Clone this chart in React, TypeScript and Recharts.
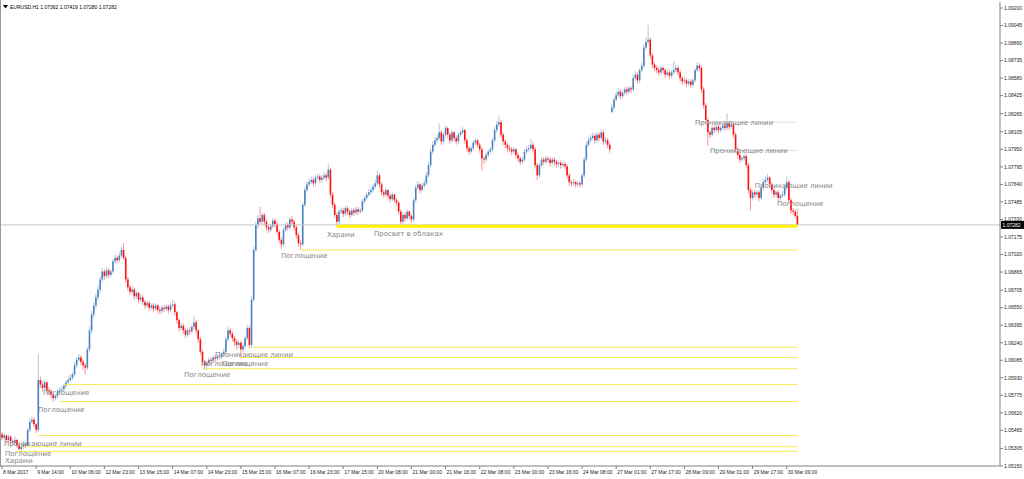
import React from 'react';
import { ComposedChart, Bar, Scatter, XAxis, YAxis, ReferenceLine } from 'recharts';

// EURUSD H1, 8-30 Mar 2017 — prices
const opens = [
  1.0543,1.0540,1.0542,1.0538,1.0541,1.0537,1.0536,1.0538,1.0533,1.0530,
  1.0532,1.0534,1.0533,1.0547,1.0554,1.0556,1.0552,1.0547,1.0591,1.0587,
  1.0584,1.0589,1.0582,1.0581,1.0578,1.0575,1.0577,1.0581,1.0582,1.0583,
  1.0586,1.0589,1.0591,1.0593,1.0596,1.0604,1.0609,1.0611,1.0607,1.0604,
  1.0602,1.0618,1.0635,1.0649,1.0657,1.0664,1.0671,1.0680,1.0687,1.0683,
  1.0688,1.0684,1.0687,1.0696,1.0699,1.0697,1.0701,1.0706,1.0699,1.0680,
  1.0673,1.0669,1.0671,1.0665,1.0668,1.0662,1.0664,1.0660,1.0657,1.0659,
  1.0655,1.0657,1.0654,1.0657,1.0653,1.0652,1.0655,1.0654,1.0656,1.0653,
  1.0657,1.0658,1.0651,1.0644,1.0637,1.0639,1.0635,1.0631,1.0635,1.0634,
  1.0638,1.0642,1.0635,1.0627,1.0616,1.0607,1.0604,1.0606,1.0609,1.0608,
  1.0611,1.0610,1.0612,1.0612,1.0614,1.0616,1.0627,1.0635,1.0632,1.0628,
  1.0625,1.0622,1.0624,1.0618,1.0621,1.0628,1.0637,1.0622,1.0662,1.0706,
  1.0728,1.0734,1.0731,1.0737,1.0731,1.0726,1.0724,1.0727,1.0732,1.0729,
  1.0722,1.0715,1.0711,1.0724,1.0728,1.0726,1.0733,1.0731,1.0726,1.0719,
  1.0712,1.0711,1.0746,1.0759,1.0764,1.0766,1.0768,1.0765,1.0770,1.0771,
  1.0768,1.0770,1.0772,1.0770,1.0777,1.0755,1.0746,1.0737,1.0731,1.0740,
  1.0741,1.0738,1.0743,1.0740,1.0737,1.0741,1.0739,1.0742,1.0740,1.0741,
  1.0749,1.0752,1.0755,1.0757,1.0759,1.0762,1.0765,1.0772,1.0764,1.0757,
  1.0755,1.0759,1.0754,1.0751,1.0755,1.0750,1.0748,1.0740,1.0731,1.0737,
  1.0734,1.0740,1.0736,1.0733,1.0750,1.0761,1.0764,1.0759,1.0763,1.0765,
  1.0772,1.0781,1.0793,1.0799,1.0803,1.0805,1.0810,1.0802,1.0808,1.0814,
  1.0808,1.0803,1.0810,1.0805,1.0802,1.0808,1.0810,1.0812,1.0803,1.0796,
  1.0793,1.0796,1.0801,1.0803,1.0799,1.0795,1.0787,1.0786,1.0790,1.0793,
  1.0795,1.0803,1.0812,1.0817,1.0819,1.0808,1.0802,1.0799,1.0796,1.0795,
  1.0793,1.0795,1.0790,1.0787,1.0784,1.0786,1.0793,1.0795,1.0796,1.0799,
  1.0795,1.0781,1.0772,1.0781,1.0786,1.0784,1.0787,1.0786,1.0783,1.0786,
  1.0784,1.0782,1.0783,1.0781,1.0782,1.0780,1.0772,1.0766,1.0765,1.0766,
  1.0764,1.0765,1.0764,1.0772,1.0786,1.0799,1.0803,1.0805,1.0807,1.0803,
  1.0808,1.0805,1.0810,1.0802,1.0803,1.0799,1.0828,1.0832,1.0839,1.0843,
  1.0846,1.0842,1.0845,1.0848,1.0846,1.0849,1.0848,1.0858,1.0861,1.0856,
  1.0865,1.0869,1.0885,1.0890,1.0892,1.0878,1.0870,1.0867,1.0865,1.0863,
  1.0867,1.0865,1.0861,1.0863,1.0860,1.0863,1.0865,1.0867,1.0863,1.0858,
  1.0855,1.0856,1.0853,1.0855,1.0852,1.0856,1.0865,1.0869,1.0867,1.0848,
  1.0834,1.0821,1.0810,1.0808,1.0814,1.0812,1.0815,1.0812,1.0814,1.0816,
  1.0814,1.0818,1.0815,1.0817,1.0808,1.0795,1.0790,1.0786,1.0787,1.0789,
  1.0781,1.0759,1.0752,1.0757,1.0755,1.0757,1.0752,1.0761,1.0766,1.0768,
  1.0770,1.0764,1.0759,1.0755,1.0757,1.0752,1.0754,1.0755,1.0761,1.0766,
  1.0750,1.0741,1.0740,1.07362,
];

const highs = [
  1.0545,1.0544,1.0543,1.0543,1.0542,1.0539,1.0541,1.0539,1.0535,1.0534,
  1.0537,1.0536,1.0549,1.0557,1.0559,1.0558,1.0553,1.0614,1.0594,1.0590,
  1.0591,1.0590,1.0585,1.0583,1.0580,1.0579,1.0583,1.0585,1.0586,1.0588,
  1.0591,1.0594,1.0596,1.0598,1.0607,1.0611,1.0614,1.0613,1.0609,1.0606,
  1.0620,1.0638,1.0652,1.0660,1.0667,1.0674,1.0683,1.0690,1.0689,1.0691,
  1.0690,1.0689,1.0698,1.0702,1.0701,1.0704,1.0709,1.0712,1.0701,1.0682,
  1.0675,1.0674,1.0673,1.0670,1.0669,1.0667,1.0666,1.0662,1.0661,1.0661,
  1.0659,1.0659,1.0659,1.0658,1.0656,1.0657,1.0657,1.0658,1.0658,1.0659,
  1.0662,1.0660,1.0652,1.0646,1.0642,1.0641,1.0637,1.0637,1.0638,1.0640,
  1.0648,1.0644,1.0636,1.0629,1.0618,1.0609,1.0608,1.0611,1.0611,1.0613,
  1.0613,1.0614,1.0615,1.0616,1.0619,1.0629,1.0638,1.0637,1.0634,1.0630,
  1.0627,1.0626,1.0626,1.0623,1.0630,1.0640,1.0639,1.0665,1.0709,1.0731,
  1.0737,1.0744,1.0739,1.0739,1.0733,1.0729,1.0729,1.0734,1.0734,1.0731,
  1.0724,1.0717,1.0726,1.0730,1.0731,1.0735,1.0736,1.0733,1.0728,1.0721,
  1.0715,1.0748,1.0762,1.0767,1.0769,1.0771,1.0770,1.0772,1.0774,1.0773,
  1.0772,1.0775,1.0774,1.0782,1.0779,1.0757,1.0748,1.0739,1.0742,1.0744,
  1.0743,1.0745,1.0745,1.0742,1.0743,1.0743,1.0744,1.0744,1.0743,1.0751,
  1.0754,1.0757,1.0760,1.0762,1.0764,1.0768,1.0777,1.0774,1.0766,1.0759,
  1.0761,1.0760,1.0756,1.0757,1.0756,1.0752,1.0749,1.0742,1.0739,1.0739,
  1.0742,1.0741,1.0738,1.0752,1.0763,1.0767,1.0765,1.0765,1.0768,1.0775,
  1.0784,1.0796,1.0802,1.0806,1.0808,1.0818,1.0812,1.0810,1.0816,1.0815,
  1.0810,1.0812,1.0811,1.0807,1.0810,1.0812,1.0815,1.0813,1.0805,1.0798,
  1.0798,1.0803,1.0805,1.0804,1.0801,1.0797,1.0789,1.0792,1.0795,1.0797,
  1.0805,1.0815,1.0820,1.0825,1.0821,1.0810,1.0804,1.0801,1.0798,1.0797,
  1.0797,1.0796,1.0792,1.0789,1.0788,1.0795,1.0798,1.0799,1.0804,1.0801,
  1.0797,1.0783,1.0783,1.0788,1.0788,1.0789,1.0789,1.0788,1.0788,1.0788,
  1.0786,1.0785,1.0785,1.0784,1.0784,1.0782,1.0774,1.0768,1.0769,1.0768,
  1.0767,1.0767,1.0774,1.0788,1.0802,1.0806,1.0808,1.0810,1.0809,1.0810,
  1.0810,1.0813,1.0812,1.0806,1.0805,1.0801,1.0835,1.0841,1.0846,1.0849,
  1.0848,1.0847,1.0850,1.0850,1.0851,1.0851,1.0861,1.0864,1.0863,1.0867,
  1.0872,1.0888,1.0894,1.0905,1.0894,1.0880,1.0872,1.0869,1.0868,1.0869,
  1.0869,1.0867,1.0866,1.0865,1.0865,1.0873,1.0870,1.0869,1.0865,1.0860,
  1.0859,1.0858,1.0857,1.0857,1.0858,1.0867,1.0872,1.0871,1.0869,1.0850,
  1.0836,1.0823,1.0812,1.0816,1.0816,1.0817,1.0817,1.0816,1.0819,1.0818,
  1.0827,1.0820,1.0819,1.0819,1.0810,1.0797,1.0792,1.0789,1.0791,1.0791,
  1.0783,1.0761,1.0759,1.0759,1.0759,1.0759,1.0763,1.0769,1.0771,1.0773,
  1.0771,1.0766,1.0761,1.0759,1.0759,1.0756,1.0758,1.0763,1.0771,1.0768,
  1.0752,1.0743,1.0742,1.07419,
];

const lows = [
  1.0538,1.0537,1.0535,1.0536,1.0534,1.0533,1.0534,1.0531,1.0527,1.0528,
  1.0530,1.0531,1.0532,1.0545,1.0552,1.0549,1.0544,1.0545,1.0584,1.0581,
  1.0582,1.0579,1.0578,1.0575,1.0572,1.0573,1.0575,1.0579,1.0580,1.0581,
  1.0584,1.0587,1.0589,1.0591,1.0594,1.0602,1.0607,1.0604,1.0600,1.0596,
  1.0600,1.0616,1.0632,1.0646,1.0654,1.0661,1.0668,1.0677,1.0680,1.0681,
  1.0681,1.0682,1.0685,1.0694,1.0694,1.0695,1.0699,1.0697,1.0677,1.0670,
  1.0666,1.0667,1.0662,1.0663,1.0659,1.0660,1.0657,1.0654,1.0655,1.0652,
  1.0653,1.0651,1.0652,1.0650,1.0649,1.0650,1.0651,1.0652,1.0650,1.0651,
  1.0655,1.0648,1.0641,1.0634,1.0635,1.0632,1.0628,1.0629,1.0631,1.0632,
  1.0636,1.0632,1.0624,1.0613,1.0604,1.0600,1.0600,1.0604,1.0605,1.0606,
  1.0607,1.0608,1.0609,1.0610,1.0612,1.0614,1.0625,1.0629,1.0625,1.0621,
  1.0618,1.0619,1.0610,1.0615,1.0619,1.0626,1.0619,1.0620,1.0660,1.0704,
  1.0725,1.0729,1.0729,1.0728,1.0723,1.0721,1.0722,1.0725,1.0726,1.0719,
  1.0712,1.0707,1.0709,1.0722,1.0723,1.0724,1.0728,1.0723,1.0716,1.0709,
  1.0706,1.0709,1.0744,1.0757,1.0762,1.0764,1.0762,1.0763,1.0768,1.0765,
  1.0766,1.0768,1.0767,1.0768,1.0752,1.0743,1.0734,1.0727,1.0729,1.0738,
  1.0735,1.0736,1.0737,1.0734,1.0735,1.0736,1.0737,1.0737,1.0738,1.0739,
  1.0747,1.0750,1.0753,1.0755,1.0757,1.0760,1.0763,1.0761,1.0754,1.0752,
  1.0753,1.0751,1.0748,1.0749,1.0747,1.0745,1.0737,1.0727,1.0729,1.0731,
  1.0732,1.0733,1.0730,1.0731,1.0748,1.0759,1.0756,1.0757,1.0761,1.0763,
  1.0770,1.0779,1.0791,1.0797,1.0801,1.0803,1.0799,1.0800,1.0806,1.0805,
  1.0800,1.0801,1.0802,1.0799,1.0800,1.0806,1.0808,1.0800,1.0793,1.0790,
  1.0791,1.0794,1.0799,1.0796,1.0792,1.0776,1.0782,1.0784,1.0788,1.0791,
  1.0793,1.0801,1.0810,1.0815,1.0805,1.0799,1.0796,1.0793,1.0792,1.0790,
  1.0791,1.0787,1.0784,1.0781,1.0782,1.0784,1.0791,1.0793,1.0794,1.0792,
  1.0778,1.0768,1.0770,1.0779,1.0781,1.0782,1.0783,1.0780,1.0781,1.0781,
  1.0779,1.0780,1.0778,1.0779,1.0777,1.0769,1.0763,1.0762,1.0763,1.0761,
  1.0762,1.0761,1.0762,1.0770,1.0784,1.0797,1.0801,1.0803,1.0800,1.0801,
  1.0802,1.0803,1.0799,1.0800,1.0796,1.0792,1.0827,1.0830,1.0837,1.0841,
  1.0839,1.0840,1.0843,1.0843,1.0844,1.0845,1.0846,1.0856,1.0853,1.0854,
  1.0863,1.0867,1.0883,1.0887,1.0875,1.0867,1.0864,1.0862,1.0860,1.0861,
  1.0862,1.0858,1.0859,1.0857,1.0858,1.0861,1.0863,1.0860,1.0855,1.0852,
  1.0853,1.0850,1.0851,1.0849,1.0850,1.0854,1.0863,1.0864,1.0845,1.0831,
  1.0818,1.0798,1.0805,1.0806,1.0809,1.0810,1.0809,1.0810,1.0812,1.0811,
  1.0812,1.0812,1.0813,1.0805,1.0792,1.0787,1.0783,1.0784,1.0785,1.0778,
  1.0756,1.0741,1.0750,1.0752,1.0753,1.0749,1.0750,1.0759,1.0764,1.0766,
  1.0761,1.0756,1.0752,1.0753,1.0749,1.0750,1.0752,1.0753,1.0759,1.0747,
  1.0738,1.0737,1.0734,1.07280,
];

const closes = [
  1.0540,1.0542,1.0538,1.0541,1.0537,1.0536,1.0538,1.0533,1.0530,1.0532,
  1.0534,1.0533,1.0547,1.0554,1.0556,1.0552,1.0547,1.0591,1.0587,1.0584,
  1.0589,1.0582,1.0581,1.0578,1.0575,1.0577,1.0581,1.0582,1.0583,1.0586,
  1.0589,1.0591,1.0593,1.0596,1.0604,1.0609,1.0611,1.0607,1.0604,1.0602,
  1.0618,1.0635,1.0649,1.0657,1.0664,1.0671,1.0680,1.0687,1.0683,1.0688,
  1.0684,1.0687,1.0696,1.0699,1.0697,1.0701,1.0706,1.0699,1.0680,1.0673,
  1.0669,1.0671,1.0665,1.0668,1.0662,1.0664,1.0660,1.0657,1.0659,1.0655,
  1.0657,1.0654,1.0657,1.0653,1.0652,1.0655,1.0654,1.0656,1.0653,1.0657,
  1.0658,1.0651,1.0644,1.0637,1.0639,1.0635,1.0631,1.0635,1.0634,1.0638,
  1.0642,1.0635,1.0627,1.0616,1.0607,1.0604,1.0606,1.0609,1.0608,1.0611,
  1.0610,1.0612,1.0612,1.0614,1.0616,1.0627,1.0635,1.0632,1.0628,1.0625,
  1.0622,1.0624,1.0618,1.0621,1.0628,1.0637,1.0622,1.0662,1.0706,1.0728,
  1.0734,1.0731,1.0737,1.0731,1.0726,1.0724,1.0727,1.0732,1.0729,1.0722,
  1.0715,1.0711,1.0724,1.0728,1.0726,1.0733,1.0731,1.0726,1.0719,1.0712,
  1.0711,1.0746,1.0759,1.0764,1.0766,1.0768,1.0765,1.0770,1.0771,1.0768,
  1.0770,1.0772,1.0770,1.0777,1.0755,1.0746,1.0737,1.0731,1.0740,1.0741,
  1.0738,1.0743,1.0740,1.0737,1.0741,1.0739,1.0742,1.0740,1.0741,1.0749,
  1.0752,1.0755,1.0757,1.0759,1.0762,1.0765,1.0772,1.0764,1.0757,1.0755,
  1.0759,1.0754,1.0751,1.0755,1.0750,1.0748,1.0740,1.0731,1.0737,1.0734,
  1.0740,1.0736,1.0733,1.0750,1.0761,1.0764,1.0759,1.0763,1.0765,1.0772,
  1.0781,1.0793,1.0799,1.0803,1.0805,1.0810,1.0802,1.0808,1.0814,1.0808,
  1.0803,1.0810,1.0805,1.0802,1.0808,1.0810,1.0812,1.0803,1.0796,1.0793,
  1.0796,1.0801,1.0803,1.0799,1.0795,1.0787,1.0786,1.0790,1.0793,1.0795,
  1.0803,1.0812,1.0817,1.0819,1.0808,1.0802,1.0799,1.0796,1.0795,1.0793,
  1.0795,1.0790,1.0787,1.0784,1.0786,1.0793,1.0795,1.0796,1.0799,1.0795,
  1.0781,1.0772,1.0781,1.0786,1.0784,1.0787,1.0786,1.0783,1.0786,1.0784,
  1.0782,1.0783,1.0781,1.0782,1.0780,1.0772,1.0766,1.0765,1.0766,1.0764,
  1.0765,1.0764,1.0772,1.0786,1.0799,1.0803,1.0805,1.0807,1.0803,1.0808,
  1.0805,1.0810,1.0802,1.0803,1.0799,1.0795,1.0832,1.0839,1.0843,1.0846,
  1.0842,1.0845,1.0848,1.0846,1.0849,1.0848,1.0858,1.0861,1.0856,1.0865,
  1.0869,1.0885,1.0890,1.0892,1.0878,1.0870,1.0867,1.0865,1.0863,1.0867,
  1.0865,1.0861,1.0863,1.0860,1.0863,1.0865,1.0867,1.0863,1.0858,1.0855,
  1.0856,1.0853,1.0855,1.0852,1.0856,1.0865,1.0869,1.0867,1.0848,1.0834,
  1.0821,1.0810,1.0808,1.0814,1.0812,1.0815,1.0812,1.0814,1.0816,1.0814,
  1.0818,1.0815,1.0817,1.0808,1.0795,1.0790,1.0786,1.0787,1.0789,1.0781,
  1.0759,1.0752,1.0757,1.0755,1.0757,1.0752,1.0761,1.0766,1.0768,1.0770,
  1.0764,1.0759,1.0755,1.0757,1.0752,1.0754,1.0755,1.0761,1.0766,1.0750,
  1.0741,1.0740,1.0736,1.07282,
];

// time axis: a label every 16 bars
const timeTickIndex = [0,16,32,48,64,80,96,112,128,144,160,176,192,208,224,240,256,272,288,304,320,336,352,368];
const timeTickLabels = [
  '8 Mar 2017','9 Mar 14:00','10 Mar 06:00','12 Mar 23:00','13 Mar 15:00','14 Mar 07:00',
  '14 Mar 23:00','15 Mar 15:00','16 Mar 07:00','16 Mar 23:00','17 Mar 15:00','20 Mar 08:00',
  '21 Mar 00:00','21 Mar 16:00','22 Mar 08:00','23 Mar 00:00','23 Mar 16:00','24 Mar 08:00',
  '27 Mar 01:00','27 Mar 17:00','28 Mar 09:00','29 Mar 01:00','29 Mar 17:00','30 Mar 09:00',
];

const priceTicks = [
  1.092,1.09045,1.0889,1.08735,1.0858,1.08425,1.08265,1.08105,1.0795,1.07795,1.0764,1.07485,1.0733,
  1.07175,1.0702,1.06865,1.06705,1.0655,1.06395,1.0624,1.06085,1.0593,1.05775,1.0562,1.05465,1.05305,1.0515,
];

const lastPrice = 1.07282;
const lastBar = 373;

// yellow levels (price, first bar)
const mainLevel = 1.0727;
const mainLevelStart = 157;
const levelPrices = [1.0706, 1.062, 1.0611, 1.0601, 1.0587, 1.0572, 1.0542, 1.0532, 1.0528];
const levelStarts = [140, 116, 112, 95, 29, 27, 17, 10, 6];
const greyLevelPrices = [1.0819, 1.0794];
const greyLevelStarts = [325, 332];

// pattern annotations
const noteTexts = [
  'Харами','Просвет в облаках','Поглощение','Поглощение','Проникающие линии','Поглощение','Поглощение',
  'Поглощение','Поглощение','Проникающие линии','Поглощение','Харами',
  'Проникающие линии','Проникающие линии','Проникающие линии','Поглощение',
];
const noteBars = [152.4, 174.4, 130.8, 85.3, 99.9, 93.3, 103.1, 19.2, 16.9, 0.9, 1.4, 1.4, 325, 332, 353, 363.4];
const notePrices = [1.072, 1.0721, 1.0701, 1.0596, 1.0614, 1.0606, 1.0606, 1.058, 1.0565, 1.0535, 1.0526, 1.052, 1.0819, 1.0794, 1.0763, 1.0747];

const candles = closes.map((c, i) => ({ i, o: opens[i], h: highs[i], l: lows[i], c, range: [lows[i], highs[i]] }));
const notes = noteTexts.map((text, k) => ({ i: noteBars[k], p: notePrices[k], text }));

const AXIS_FONT = '"Liberation Sans", Arial, sans-serif';

const Candle = (props: any) => {
  const { x, y, width, height, payload } = props;
  if (!payload) return null;
  const top = Math.min(y, y + height);
  const span = Math.abs(height);
  const { o, h, l, c } = payload;
  const toY = (p: number) => (h === l ? top : top + ((h - p) / (h - l)) * span);
  const cx = x + width / 2;
  const color = c >= o ? '#4a82be' : '#ff1010';
  const bTop = toY(Math.max(o, c));
  const bBot = toY(Math.min(o, c));
  return (
    <g>
      <line x1={cx} x2={cx} y1={top} y2={top + span} stroke={color} strokeOpacity={0.45} strokeWidth={1} />
      <rect x={cx - 0.8} y={bTop} width={1.6} height={Math.max(bBot - bTop, 0.7)} fill={color} />
    </g>
  );
};

const NoteText = (props: any) => {
  const { cx, cy, payload } = props;
  return (
    <text x={cx} y={cy} dy={2.5} fontSize={7} fontFamily='"DejaVu Sans", sans-serif' fill="#858585">
      {payload.text}
    </text>
  );
};

const PriceTick = ({ x, y, payload }: any) => (
  <text x={x} y={y} dy={1.8} fontSize={5} fontFamily={AXIS_FONT} fill="#222">
    {Number(payload.value).toFixed(5)}
  </text>
);

const TimeTick = ({ x, y, payload }: any) => (
  <text x={x + 1} y={y} dy={4} fontSize={5} fontFamily={AXIS_FONT} fill="#222">
    {timeTickLabels[timeTickIndex.indexOf(payload.value)]}
  </text>
);

const PriceTag = (props: any) => {
  const vb = props.viewBox || {};
  const right = (vb.x || 0) + (vb.width || 0);
  const y = vb.y || 0;
  return (
    <g>
      <rect x={right + 1} y={y - 4} width={23} height={8} fill="#000" />
      <text x={right + 2.5} y={y + 1.8} fontSize={5} fontFamily={AXIS_FONT} fill="#fff">
        {lastPrice.toFixed(5)}
      </text>
    </g>
  );
};

export default function App() {
  return (
    <div style={{ position: 'absolute', left: 0, top: 0, width: 1024, height: 479, background: '#fff' }}>
      <ComposedChart width={1024} height={479} data={candles} margin={{ top: 2, right: 0, bottom: 0, left: 1 }}>
        <XAxis
          dataKey="i"
          type="number"
          domain={[-0.5, 468]}
          allowDataOverflow
          ticks={timeTickIndex}
          interval={0}
          tick={<TimeTick />}
          tickSize={3}
          tickMargin={1}
          height={13}
          stroke="#808080"
        />
        <YAxis
          orientation="right"
          type="number"
          domain={[1.0515, 1.09253]}
          allowDataOverflow
          ticks={priceTicks}
          interval={0}
          tick={<PriceTick />}
          tickSize={3}
          tickMargin={1}
          width={24}
          stroke="#808080"
        />
        <ReferenceLine y={lastPrice} stroke="#c8c8c8" strokeWidth={1} label={(p: any) => <PriceTag {...p} />} />
        <ReferenceLine
          segment={[{ x: mainLevelStart, y: mainLevel }, { x: lastBar, y: mainLevel }]}
          stroke="#fff200"
          strokeWidth={3}
        />
        {levelPrices.map((p, k) => (
          <ReferenceLine
            key={'lv' + k}
            segment={[{ x: levelStarts[k], y: p }, { x: lastBar, y: p }]}
            stroke="#f0ec50"
            strokeWidth={1}
          />
        ))}
        {greyLevelPrices.map((p, k) => (
          <ReferenceLine
            key={'gl' + k}
            segment={[{ x: greyLevelStarts[k], y: p }, { x: lastBar, y: p }]}
            stroke="#d6e2ea"
            strokeWidth={1}
          />
        ))}
        <Bar dataKey="range" shape={<Candle />} barSize={2} isAnimationActive={false} />
        <Scatter data={notes} dataKey="p" shape={<NoteText />} isAnimationActive={false} />
      </ComposedChart>
      <div style={{ position: 'absolute', left: 0, top: 0, width: 1, height: 467, background: '#9a9a9a' }} />
      <svg style={{ position: 'absolute', left: 0, top: 0 }} width={200} height={14}>
        <polygon points="3,5 8,5 5.5,8.5" fill="#000" />
        <text x={10} y={9} fontSize={5} fontFamily={AXIS_FONT} fill="#000">
          EURUSD,H1  1.07362 1.07419 1.07280 1.07282
        </text>
      </svg>
    </div>
  );
}
